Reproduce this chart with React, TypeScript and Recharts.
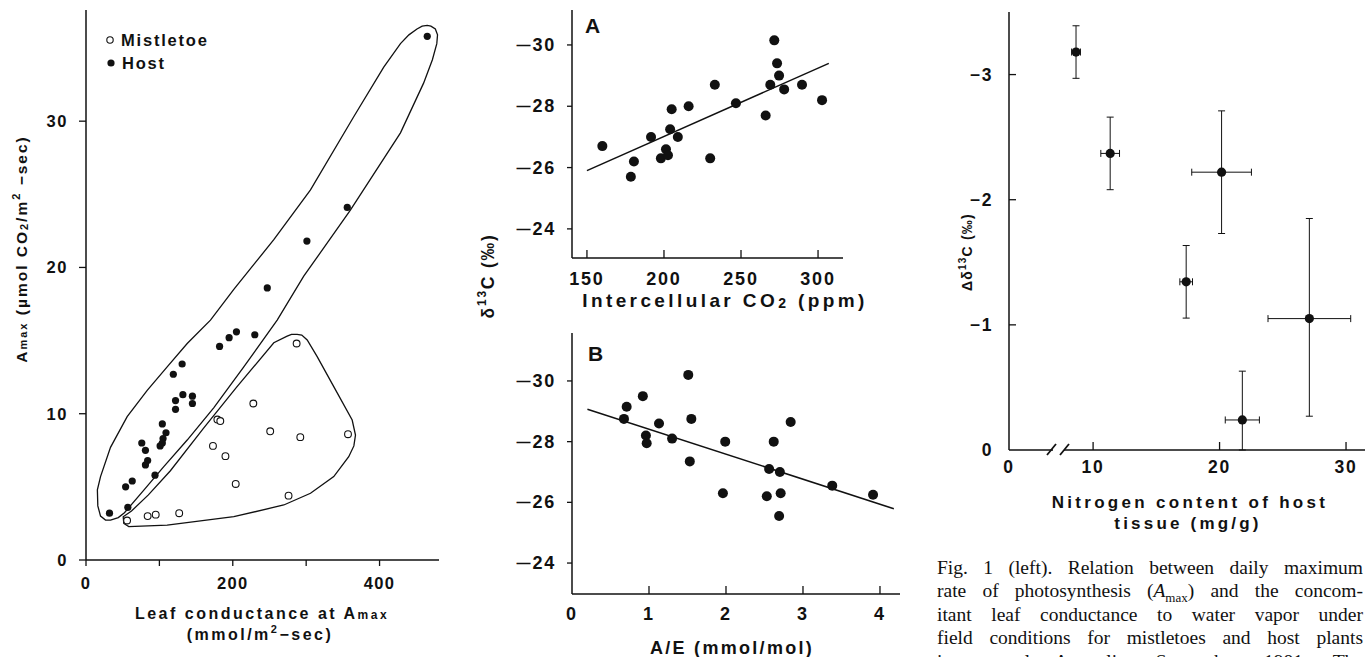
import React from 'react';
import { ScatterChart, Scatter, XAxis, YAxis, ErrorBar } from 'recharts';

// ---------- Panel 1: Amax vs leaf conductance ----------
const hostCond = [465, 356, 301, 247, 205, 195, 182, 230, 131, 119, 132, 122, 122, 145, 145, 104, 109, 105, 104, 101, 76, 81, 84, 81, 94, 63, 54, 57, 32];
const hostAmax = [35.8, 24.1, 21.8, 18.6, 15.6, 15.2, 14.6, 15.4, 13.4, 12.7, 11.3, 10.9, 10.3, 11.2, 10.7, 9.3, 8.7, 8.3, 8.0, 7.8, 8.0, 7.5, 6.8, 6.5, 5.8, 5.4, 5.0, 3.6, 3.2];
const mistCond = [287, 228, 179, 183, 251, 292, 357, 173, 190, 204, 276, 127, 95, 84, 56];
const mistAmax = [14.8, 10.7, 9.6, 9.5, 8.8, 8.4, 8.6, 7.8, 7.1, 5.2, 4.4, 3.2, 3.1, 3.0, 2.7];

// envelope outlines (hand drawn loops in the figure)
const hostEnvX = [26.6, 33.4, 44, 52.4, 78.8, 106, 137.9, 174, 215, 260.5, 296.7, 360, 428.5, 460, 472, 478, 479, 476, 470, 465, 458, 451, 440, 428.5, 405.7, 364.8, 305.9, 255.9, 201.4, 169.6, 137.9, 110.6, 83.4, 56.1, 33.4, 19.8, 15.5, 16.1, 19.8];
const hostEnvY = [2.73, 2.73, 2.9, 3.23, 4.78, 6.38, 8.2, 10.4, 13.2, 16.4, 19.4, 23.9, 29.2, 32.6, 34.2, 35.3, 35.9, 36.3, 36.5, 36.55, 36.5, 36.3, 35.9, 35.3, 33.7, 30.3, 25.3, 21.9, 18.5, 16.4, 14.8, 13.2, 11.6, 9.8, 7.7, 5.7, 4.8, 3.7, 3.0];
const mistEnvX = [50.7, 51.5, 58.3, 110.6, 201.4, 269.5, 305.9, 337.6, 358, 365, 367.2, 362.7, 337.6, 315, 301.4, 294, 287.7, 280, 274.1, 255.9, 205, 160, 115, 85, 62];
const mistEnvY = [2.96, 2.5, 2.28, 2.39, 2.96, 3.76, 4.56, 5.7, 7.06, 7.8, 8.54, 9.57, 11.85, 13.9, 15.04, 15.38, 15.43, 15.42, 15.3, 14.85, 11.8, 9.0, 6.1, 4.45, 3.35];

// ---------- Panel A ----------
const ciA = [160, 178.5, 180.5, 191.6, 198, 201.3, 202.6, 204, 205, 209, 216, 230, 233, 246.7, 266, 269, 271.6, 273.4, 274.7, 278, 289.6, 302.6];
const d13A = [-26.7, -25.7, -26.2, -27.0, -26.3, -26.6, -26.4, -27.25, -27.9, -27.0, -28.0, -26.3, -28.7, -28.1, -27.7, -28.7, -30.15, -29.4, -29.0, -28.55, -28.7, -28.2];
const fitAX = [150, 307];
const fitAY = [-25.9, -29.4];

// ---------- Panel B ----------
const aeB = [0.675, 0.71, 0.92, 0.96, 0.97, 1.13, 1.30, 1.51, 1.55, 1.53, 1.99, 1.96, 2.53, 2.56, 2.62, 2.70, 2.71, 2.69, 2.84, 3.38, 3.91];
const d13B = [-28.75, -29.15, -29.5, -28.2, -27.95, -28.6, -28.1, -30.2, -28.75, -27.35, -28.0, -26.3, -26.2, -27.1, -28.0, -27.0, -26.3, -25.55, -28.65, -26.55, -26.25];
const fitBX = [0.2, 4.18];
const fitBY = [-29.07, -25.79];

// ---------- Panel C ----------
const nC = [8.65, 11.35, 20.16, 17.36, 27.1, 21.8];
const dC = [-3.18, -2.37, -2.22, -1.344, -1.05, -0.24];
const nErr = [0.35, 0.74, 2.36, 0.5, 3.27, 1.35];
const dErrLow = [0.21, 0.29, 0.49, 0.29, 0.8, 0.39];
const dErrHigh = [0.21, 0.29, 0.49, 0.29, 0.78, 0.24];
const cBreakStart = 3.35; // axis starts here; labelled "0" (broken axis)

const zip = (xs: number[], ys: number[]) => xs.map((x, i) => ({ x, y: ys[i] }));
const hostData = zip(hostCond, hostAmax);
const mistData = zip(mistCond, mistAmax);
const hostEnv = zip(hostEnvX, hostEnvY);
const mistEnv = zip(mistEnvX, mistEnvY);
const aData = zip(ciA, d13A);
const aFit = zip(fitAX, fitAY);
const bData = zip(aeB, d13B);
const bFit = zip(fitBX, fitBY);
const cData = nC.map((x, i) => ({ x, y: dC[i], ex: nErr[i], ey: [dErrLow[i], dErrHigh[i]] }));

const FONT = '"Liberation Sans", Arial, Helvetica, sans-serif';
const INK = '#111';

type TickCfg = {
  orient: 'left' | 'bottom';
  len: number;
  inward?: boolean;
  off: number;
  fs: number;
  ls?: number;
  dashFs?: number; // font size for a long minus dash
  label?: (v: number) => string;
  line?: (v: number) => boolean;
};

const makeTick = (cfg: TickCfg) => (props: any) => {
  const { x, y, payload } = props;
  const v = payload.value as number;
  const showLine = cfg.line ? cfg.line(v) : true;
  const d = cfg.inward ? -1 : 1;
  let content: React.ReactNode;
  if (cfg.label) content = cfg.label(v);
  else if (v < 0) {
    content = cfg.dashFs
      ? <><tspan fontSize={cfg.dashFs}>—</tspan><tspan>{String(Math.abs(v))}</tspan></>
      : '\u2212' + Math.abs(v);
  } else content = String(v);
  const common = { fontFamily: FONT, fontWeight: 'bold' as const, fontSize: cfg.fs, letterSpacing: cfg.ls ?? 1, fill: INK, dominantBaseline: 'central' as const };
  if (cfg.orient === 'bottom') {
    return (
      <g>
        {showLine && <line x1={x} y1={y} x2={x} y2={y + d * cfg.len} stroke={INK} strokeWidth={1.3} />}
        <text x={x} y={y + cfg.off} textAnchor="middle" {...common}>{content}</text>
      </g>
    );
  }
  return (
    <g>
      {showLine && <line x1={x} y1={y} x2={x - d * cfg.len} y2={y} stroke={INK} strokeWidth={1.3} />}
      <text x={x - cfg.off} y={y} textAnchor="end" {...common}>{content}</text>
    </g>
  );
};

const axisLine = { stroke: INK, strokeWidth: 1.5 };
const none = () => <g />;
const dot = (r: number) => (p: any) => <circle cx={p.cx} cy={p.cy} r={r} fill={INK} />;
const ring = (r: number) => (p: any) => <circle cx={p.cx} cy={p.cy} r={r} fill="#fff" stroke={INK} strokeWidth={1.1} />;

const abs = (left: number, top: number): React.CSSProperties => ({ position: 'absolute', left, top });

const txt = (extra: any = {}) => ({ fontFamily: FONT, fontWeight: 'bold' as const, fill: INK, ...extra });

export default function App() {
  return (
    <div style={{ position: 'absolute', left: 0, top: 0, width: 1368, height: 657, overflow: 'hidden', background: '#fff' }}>
      {/* Panel 1 */}
      <div style={abs(0, 0)}>
        <ScatterChart width={460} height={657} margin={{ top: 10, right: 21, bottom: 57, left: 0 }}>
          <XAxis type="number" dataKey="x" domain={[0, 481]} ticks={[0, 100, 200, 300, 400]} allowDataOverflow height={40}
            axisLine={axisLine} tickLine={false} tickSize={0} tickMargin={0}
            tick={makeTick({ orient: 'bottom', len: 6, off: 23, fs: 16.5, ls: 1.4, label: (v) => (v % 200 === 0 ? String(v) : '') })} />
          <YAxis type="number" dataKey="y" domain={[0, 37.6]} ticks={[0, 10, 20, 30]} allowDataOverflow width={86}
            axisLine={axisLine} tickLine={false} tickSize={0} tickMargin={0}
            tick={makeTick({ orient: 'left', len: 7, off: 18, fs: 16.5, ls: 1.6 })} />
          <Scatter data={hostEnv} line={{ stroke: INK, strokeWidth: 1.3, fill: 'none' }} lineJointType="linearClosed" shape={none} isAnimationActive={false} />
          <Scatter data={mistEnv} line={{ stroke: INK, strokeWidth: 1.3, fill: 'none' }} lineJointType="linearClosed" shape={none} isAnimationActive={false} />
          <Scatter data={mistData} shape={ring(3.4)} isAnimationActive={false} />
          <Scatter data={hostData} shape={dot(3.6)} isAnimationActive={false} />
        </ScatterChart>
      </div>

      {/* Panel A */}
      <div style={abs(470, 0)}>
        <ScatterChart width={380} height={330} margin={{ top: 10, right: 7, bottom: 22, left: 0 }}>
          <XAxis type="number" dataKey="x" domain={[140.3, 316.2]} ticks={[150, 200, 250, 300]} allowDataOverflow height={50}
            axisLine={axisLine} tickLine={false} tickSize={0} tickMargin={0}
            tick={makeTick({ orient: 'bottom', len: 8, inward: true, off: 21, fs: 18, ls: 1.8 })} />
          <YAxis type="number" dataKey="y" domain={[-31.14, -23.05]} reversed ticks={[-30, -28, -26, -24]} allowDataOverflow width={102}
            axisLine={axisLine} tickLine={false} tickSize={0} tickMargin={0}
            tick={makeTick({ orient: 'left', len: 5, off: 16, fs: 18, ls: 1.8, dashFs: 14 })} />
          <Scatter data={aFit} line={{ stroke: INK, strokeWidth: 1.5 }} shape={none} isAnimationActive={false} />
          <Scatter data={aData} shape={dot(5)} isAnimationActive={false} />
        </ScatterChart>
      </div>

      {/* Panel B */}
      <div style={abs(470, 320)}>
        <ScatterChart width={440} height={337} margin={{ top: 13, right: 10, bottom: 13, left: 0 }}>
          <XAxis type="number" dataKey="x" domain={[0, 4.26]} ticks={[0, 1, 2, 3, 4]} allowDataOverflow height={50}
            axisLine={axisLine} tickLine={false} tickSize={0} tickMargin={0}
            tick={makeTick({ orient: 'bottom', len: 8, inward: true, off: 20, fs: 18, ls: 1.8, line: (v) => v !== 0 })} />
          <YAxis type="number" dataKey="y" domain={[-31.58, -22.98]} reversed ticks={[-30, -28, -26, -24]} allowDataOverflow width={102}
            axisLine={axisLine} tickLine={false} tickSize={0} tickMargin={0}
            tick={makeTick({ orient: 'left', len: 5, off: 16, fs: 18, ls: 1.8, dashFs: 14 })} />
          <Scatter data={bFit} line={{ stroke: INK, strokeWidth: 1.5 }} shape={none} isAnimationActive={false} />
          <Scatter data={bData} shape={dot(5)} isAnimationActive={false} />
        </ScatterChart>
      </div>

      {/* Panel C */}
      <div style={abs(960, 0)}>
        <ScatterChart width={408} height={500} margin={{ top: 12, right: 3, bottom: 10, left: 0 }}>
          <XAxis type="number" dataKey="x" domain={[cBreakStart, 31.5]} ticks={[cBreakStart, 10, 20, 30]} allowDataOverflow height={40}
            axisLine={axisLine} tickLine={false} tickSize={0} tickMargin={0}
            tick={makeTick({ orient: 'bottom', len: 8, inward: true, off: 17, fs: 17.5, ls: 1.8, label: (v) => (v === cBreakStart ? '0' : String(v)), line: (v) => v !== cBreakStart })} />
          <YAxis type="number" dataKey="y" domain={[-3.5, 0]} reversed ticks={[-3, -2, -1, 0]} allowDataOverflow width={49}
            axisLine={axisLine} tickLine={false} tickSize={0} tickMargin={0}
            tick={makeTick({ orient: 'left', len: 7, inward: true, off: 16, fs: 17.5, ls: 1.6, line: (v) => v !== 0 })} />
          <Scatter data={cData} shape={dot(4.6)} isAnimationActive={false}>
            <ErrorBar dataKey="ex" direction="x" width={3.5} stroke={INK} strokeWidth={1} isAnimationActive={false} />
            <ErrorBar dataKey="ey" direction="y" width={3.5} stroke={INK} strokeWidth={1} isAnimationActive={false} />
          </Scatter>
        </ScatterChart>
      </div>

      {/* Text overlay: titles, legend, panel letters, axis break */}
      <svg width={1368} height={657} style={{ position: 'absolute', left: 0, top: 0, pointerEvents: 'none' }}>
        {/* Legend panel 1 */}
        <circle cx={110} cy={40} r={3.2} fill="#fff" stroke={INK} strokeWidth={1.1} />
        <text x={121} y={40} dominantBaseline="central" fontSize={16.5} letterSpacing={1.8} {...txt()}>Mistletoe</text>
        <circle cx={111} cy={63} r={3.6} fill={INK} />
        <text x={122} y={63} dominantBaseline="central" fontSize={16.5} letterSpacing={1.8} {...txt()}>Host</text>

        {/* Panel 1 y title */}
        <text transform="translate(21,249) rotate(-90)" textAnchor="middle" dominantBaseline="central" fontSize={15.5} letterSpacing={2} {...txt()}>
          A<tspan fontSize={11} dy={2}>max</tspan><tspan dy={-2}> (µmol CO</tspan><tspan fontSize={11} dy={3}>2</tspan><tspan dy={-3}>/m</tspan><tspan fontSize={11} dy={-5}>2</tspan><tspan dy={5}> −sec)</tspan>
        </text>
        {/* Panel 1 x title */}
        <text x={262} y={613} textAnchor="middle" dominantBaseline="central" fontSize={16} letterSpacing={2.5} {...txt()}>
          Leaf conductance at A<tspan fontSize={12} dy={2}>max</tspan>
        </text>
        <text x={260} y={634} textAnchor="middle" dominantBaseline="central" fontSize={16} letterSpacing={2.5} {...txt()}>
          (mmol/m<tspan fontSize={11} dy={-5}>2</tspan><tspan dy={5}>−sec)</tspan>
        </text>

        {/* Panel letters */}
        <text x={585} y={25} dominantBaseline="central" fontSize={21} {...txt()}>A</text>
        <text x={588} y={353} dominantBaseline="central" fontSize={21} {...txt()}>B</text>

        {/* A/B shared y title */}
        <text transform="translate(488,276) rotate(-90)" textAnchor="middle" dominantBaseline="central" fontSize={17.5} letterSpacing={1.8} {...txt()}>
          δ<tspan fontSize={12} dy={-6}>13</tspan><tspan dy={6}>C (‰)</tspan>
        </text>
        <text x={725} y={300} textAnchor="middle" dominantBaseline="central" fontSize={19} letterSpacing={3.4} {...txt()}>
          Intercellular CO<tspan fontSize={14} dy={3}>2</tspan><tspan dy={-3}> (ppm)</tspan>
        </text>
        <text x={732} y={648} textAnchor="middle" dominantBaseline="central" fontSize={18} letterSpacing={2.3} {...txt()}>A/E (mmol/mol)</text>

        {/* Panel C titles */}
        <text transform="translate(967,252) rotate(-90)" textAnchor="middle" dominantBaseline="central" fontSize={14} letterSpacing={1.2} {...txt()}>
          Δδ<tspan fontSize={10} dy={-5}>13</tspan><tspan dy={5}>C (‰)</tspan>
        </text>
        <text x={1190} y={502} textAnchor="middle" dominantBaseline="central" fontSize={17} letterSpacing={3.3} {...txt()}>Nitrogen content of host</text>
        <text x={1188} y={523} textAnchor="middle" dominantBaseline="central" fontSize={17} letterSpacing={3.2} {...txt()}>tissue (mg/g)</text>

        {/* axis break marks on panel C */}
        <rect x={1053} y={446} width={11} height={8} fill="#fff" />
        <line x1={1047} y1={455} x2={1056} y2={444} stroke={INK} strokeWidth={1.8} />
        <line x1={1060} y1={455} x2={1069} y2={444} stroke={INK} strokeWidth={1.8} />
      </svg>

      {/* Caption */}
      <div style={{ position: 'absolute', left: 937, top: 555.5, width: 426, fontFamily: '"Liberation Serif", "Times New Roman", serif', fontSize: 19.5, lineHeight: '23.5px', color: '#111' }}>
        {[
          <>Fig. 1 (left). Relation between daily maximum</>,
          <>rate of photosynthesis (<i>A</i><sub style={{ fontSize: 13, lineHeight: 0 }}>max</sub>) and the concom-</>,
          <>itant leaf conductance to water vapor under</>,
          <>field conditions for mistletoes and host plants</>,
          <>in central Australia, September 1981. The</>,
        ].map((line, i) => (
          <div key={i} style={{ textAlign: 'justify', textAlignLast: 'justify', whiteSpace: 'nowrap', height: 23.5 }}>{line}</div>
        ))}
      </div>
    </div>
  );
}
